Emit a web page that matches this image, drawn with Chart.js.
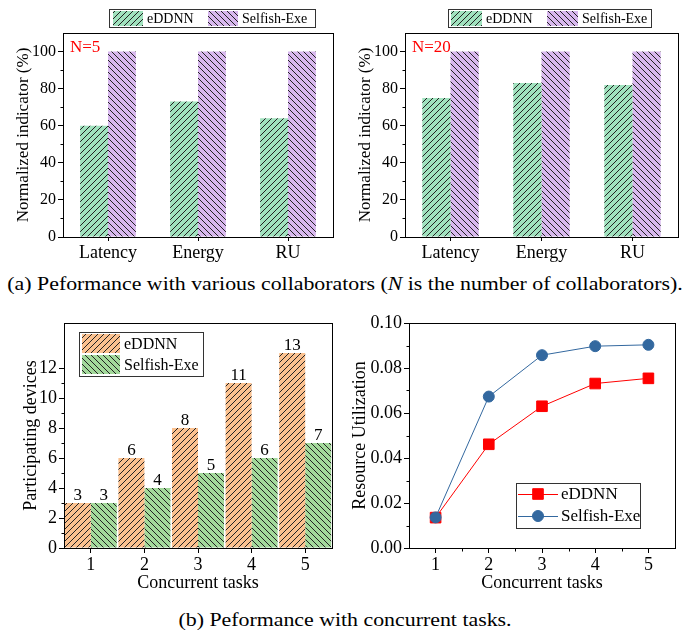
<!DOCTYPE html>
<html>
<head>
<meta charset="utf-8">
<script src="https://cdn.jsdelivr.net/npm/chart.js@4.4.1/dist/chart.umd.min.js"></script>
<style>
  body { margin: 0; background: #fff; width: 690px; height: 635px; position: relative; overflow: hidden; font-family: "Liberation Serif", serif; }
  canvas { position: absolute; }
  .cap { position: absolute; left: 0; width: 690px; text-align: center; font-size: 19px; line-height: 22px; color: #000;
         transform: scaleX(1.15); transform-origin: 345px 50%; }
</style>
</head>
<body>
<canvas id="c1" width="345" height="268" style="left:0;top:0;width:345px;height:268px"></canvas>
<canvas id="c2" width="345" height="268" style="left:345px;top:0;width:345px;height:268px"></canvas>
<div class="cap" style="top:273px">(a) Peformance with various collaborators (<i>N</i> is the number of collaborators).</div>
<canvas id="c3" width="345" height="300" style="left:0;top:300px;width:345px;height:300px"></canvas>
<canvas id="c4" width="345" height="300" style="left:345px;top:300px;width:345px;height:300px"></canvas>
<div class="cap" style="top:609px">(b) Peformance with concurrent tasks.</div>
<script>
// --- data ---
const metrics = ['Latency', 'Energy', 'RU'];
const eddnnN5 = [60, 73, 64];
const selfishN5 = [100, 100, 100];
const eddnnN20 = [75, 83, 82];
const selfishN20 = [100, 100, 100];

const tasks = ['1', '2', '3', '4', '5'];
const eddnnDevices = [3, 6, 8, 11, 13];
const selfishDevices = [3, 4, 5, 6, 7];
const eddnnRU = [0.0135, 0.0461, 0.0630, 0.0731, 0.0754];
const selfishRU = [0.0136, 0.0673, 0.0857, 0.0897, 0.0903];

const FONT = '"Liberation Serif", "Times New Roman", serif';
const GREEN = '#a0e2be';
const PURPLE = '#d8b8ee';
const ORANGE = '#fbc18f';
const GREEN2 = '#a3d99b';

// diagonal hatch pattern, '/' or '\'
function hatch(bg, dir) {
    const s = 6;
    const c = document.createElement('canvas');
    c.width = s; c.height = s;
    const g = c.getContext('2d');
    g.fillStyle = bg;
    g.fillRect(0, 0, s, s);
    g.fillStyle = '#222';
    for (let i = 0; i < s; i++) {
        const x = dir === '/' ? s - 1 - i : i;
        g.fillRect(x, i, 1, 1);
    }
    return g.createPattern(c, 'repeat');
}

// frame, minor ticks, boxed legend, note text, value labels
const extras = {
    id: 'extras',
    afterDatasetsDraw(chart, args, o) {
        const ctx = chart.ctx;
        if (o.values) {
            ctx.save();
            ctx.fillStyle = '#000';
            ctx.font = `${o.values}px ${FONT}`;
            ctx.textAlign = 'center';
            ctx.textBaseline = 'alphabetic';
            chart.data.datasets.forEach((ds, di) => {
                chart.getDatasetMeta(di).data.forEach((bar, i) => {
                    ctx.fillText(ds.data[i], bar.x, bar.y - 3);
                });
            });
            ctx.restore();
        }
    },
    afterDraw(chart, args, o) {
        const ctx = chart.ctx;
        const a = chart.chartArea;
        ctx.save();
        ctx.strokeStyle = '#000';
        ctx.lineWidth = 1;
        const L = Math.round(a.left) + 0.5, T = Math.round(a.top) + 0.5;
        const R = Math.round(a.right) + 0.5, B = Math.round(a.bottom) + 0.5;
        ctx.strokeRect(L, T, R - L, B - T);

        // minor ticks
        const ys = chart.scales.y;
        ctx.beginPath();
        for (let i = 0; i < ys.ticks.length - 1; i++) {
            const p = Math.round(ys.getPixelForValue((ys.ticks[i].value + ys.ticks[i + 1].value) / 2)) + 0.5;
            ctx.moveTo(L - 3, p); ctx.lineTo(L, p);
        }
        if (o.minorX) {
            const xs = chart.scales.x;
            for (let i = 0; i < chart.data.labels.length - 1; i++) {
                const p = Math.round(xs.getPixelForValue(i + 0.5)) + 0.5;
                ctx.moveTo(p, B); ctx.lineTo(p, B + 3);
            }
        }
        ctx.stroke();

        // note text
        if (o.note) {
            ctx.fillStyle = o.note.color;
            ctx.font = `${o.note.size}px ${FONT}`;
            ctx.textAlign = 'left';
            ctx.textBaseline = 'middle';
            ctx.fillText(o.note.text, o.note.x, o.note.y);
        }

        // boxed legend
        const lg = o.legend;
        if (lg) {
            ctx.strokeStyle = '#333';
            ctx.strokeRect(lg.box[0] + 0.5, lg.box[1] + 0.5, lg.box[2], lg.box[3]);
            ctx.font = `${lg.size}px ${FONT}`;
            ctx.textAlign = 'left';
            ctx.textBaseline = 'middle';
            chart.data.datasets.forEach((ds, i) => {
                const sx = lg.sw[0] + i * lg.step[0];
                const sy = lg.sw[1] + i * lg.step[1];
                const cy = sy + lg.sw[3] / 2;
                if (lg.line) {
                    ctx.strokeStyle = ds.borderColor;
                    ctx.lineWidth = 1;
                    ctx.beginPath();
                    ctx.moveTo(sx, Math.round(cy) + 0.5);
                    ctx.lineTo(sx + lg.sw[2], Math.round(cy) + 0.5);
                    ctx.stroke();
                    ctx.fillStyle = ds.backgroundColor;
                    Chart.helpers.drawPoint(ctx, {
                        pointStyle: ds.pointStyle, radius: ds.pointRadius, rotation: 0, borderWidth: 1
                    }, sx + lg.sw[2] / 2, cy);
                } else {
                    ctx.fillStyle = ds.backgroundColor;
                    ctx.fillRect(sx, sy, lg.sw[2], lg.sw[3]);
                }
                ctx.fillStyle = '#000';
                ctx.fillText(ds.label, sx + lg.sw[2] + lg.gap, cy + 1);
            });
        }
        ctx.restore();
    }
};

function yAxis(opts) {
    return {
        min: opts.min, max: opts.max,
        ticks: {
            stepSize: opts.step, color: '#000', padding: 2,
            font: { family: FONT, size: opts.tickSize },
            callback: opts.fmt || (v => v)
        },
        grid: { drawOnChartArea: false, tickLength: 5, color: '#000' },
        border: { display: false },
        title: {
            display: true, text: opts.title, color: '#000',
            font: { family: FONT, size: opts.titleSize }, padding: { top: opts.titlePad, bottom: 0 }
        },
        afterBuildTicks: s => {
            s.ticks = s.ticks.filter(t => Math.abs(t.value / opts.step - Math.round(t.value / opts.step)) < 1e-6);
        },
        afterFit: s => { s.width = opts.width; }
    };
}

function xAxis(opts) {
    const ax = {
        type: 'category', offset: true,
        ticks: { color: '#000', padding: opts.pad || 1, font: { family: FONT, size: opts.tickSize } },
        grid: { offset: false, drawOnChartArea: false, tickLength: opts.tl || 5, color: '#000' },
        border: { display: false },
        afterFit: s => { s.height = opts.height; }
    };
    if (opts.title) {
        ax.title = {
            display: true, text: opts.title, color: '#000',
            font: { family: FONT, size: opts.titleSize }, padding: { top: 0, bottom: opts.titlePad }
        };
    }
    return ax;
}

const base = {
    responsive: false,
    animation: false,
    events: []
};

function topChart(id, eData, sData, note, yWidth, titlePad, legend) {
    new Chart(document.getElementById(id), {
        type: 'bar',
        data: {
            labels: metrics,
            datasets: [
                { label: 'eDDNN', data: eData, backgroundColor: hatch(GREEN, '/'), borderWidth: 0, barPercentage: 1, categoryPercentage: 0.62 },
                { label: 'Selfish-Exe', data: sData, backgroundColor: hatch(PURPLE, '\\'), borderWidth: 0, barPercentage: 1, categoryPercentage: 0.62 }
            ]
        },
        options: {
            ...base,
            layout: { padding: { left: 0, top: 33, right: 12, bottom: 0 } },
            scales: {
                x: xAxis({ tickSize: 18, height: 31, tl: 4, pad: 0 }),
                y: yAxis({ min: 0, max: 110, step: 20, tickSize: 16, title: 'Normalized indicator (%)', titleSize: 17, titlePad: titlePad, width: yWidth })
            },
            plugins: {
                legend: { display: false },
                tooltip: { enabled: false },
                extras: {
                    note: { text: note, x: yWidth + 7, y: 48, color: '#ff0000', size: 17 },
                    legend: legend
                }
            }
        },
        plugins: [extras]
    });
}

topChart('c1', eddnnN5, selfishN5, 'N=5', 63, 13,
    { box: [109, 9, 206, 18], sw: [113, 11, 30, 15], step: [95, 0], gap: 4, size: 14 });
topChart('c2', eddnnN20, selfishN20, 'N=20', 60, 10,
    { box: [103, 9, 203, 18], sw: [106, 11, 31, 15], step: [96, 0], gap: 4, size: 14 });

new Chart(document.getElementById('c3'), {
    type: 'bar',
    data: {
        labels: tasks,
        datasets: [
            { label: 'eDDNN', data: eddnnDevices, backgroundColor: hatch(ORANGE, '/'), borderWidth: 0, barPercentage: 1, categoryPercentage: 0.97 },
            { label: 'Selfish-Exe', data: selfishDevices, backgroundColor: hatch(GREEN2, '\\'), borderWidth: 0, barPercentage: 1, categoryPercentage: 0.97 }
        ]
    },
    options: {
        ...base,
        layout: { padding: { left: 0, top: 23, right: 13, bottom: 0 } },
        scales: {
            x: xAxis({ tickSize: 18, height: 52, title: 'Concurrent tasks', titleSize: 18, titlePad: 6 }),
            y: yAxis({ min: 0, max: 15, step: 2, tickSize: 18, title: 'Participating devices', titleSize: 18, titlePad: 20, width: 64 })
        },
        plugins: {
            legend: { display: false },
            tooltip: { enabled: false },
            extras: {
                values: 17,
                legend: { box: [79, 32, 124, 44], sw: [82, 34, 38, 19], step: [0, 21], gap: 4, size: 16 }
            }
        }
    },
    plugins: [extras]
});

new Chart(document.getElementById('c4'), {
    type: 'line',
    data: {
        labels: tasks,
        datasets: [
            { label: 'eDDNN', data: eddnnRU, borderColor: '#ff0000', backgroundColor: '#ff0000', borderWidth: 1,
              pointStyle: 'rect', pointRadius: 7.5, pointBorderWidth: 1, order: 1 },
            { label: 'Selfish-Exe', data: selfishRU, borderColor: '#33689f', backgroundColor: '#33689f', borderWidth: 1,
              pointStyle: 'circle', pointRadius: 5.5, pointBorderWidth: 1, order: 0 }
        ]
    },
    options: {
        ...base,
        layout: { padding: { left: 0, top: 23, right: 15, bottom: 0 } },
        scales: {
            x: xAxis({ tickSize: 18, height: 52, title: 'Concurrent tasks', titleSize: 18, titlePad: 6 }),
            y: yAxis({ min: 0, max: 0.1, step: 0.02, tickSize: 18, title: 'Resource Utilization', titleSize: 18, titlePad: 4, width: 64,
                       fmt: v => v.toFixed(2) })
        },
        plugins: {
            legend: { display: false },
            tooltip: { enabled: false },
            extras: {
                minorX: true,
                legend: { box: [171, 183, 124, 45], sw: [173, 183, 40, 22], step: [0, 22], gap: 3, size: 17, line: true }
            }
        }
    },
    plugins: [extras]
});
</script>
</body>
</html>
